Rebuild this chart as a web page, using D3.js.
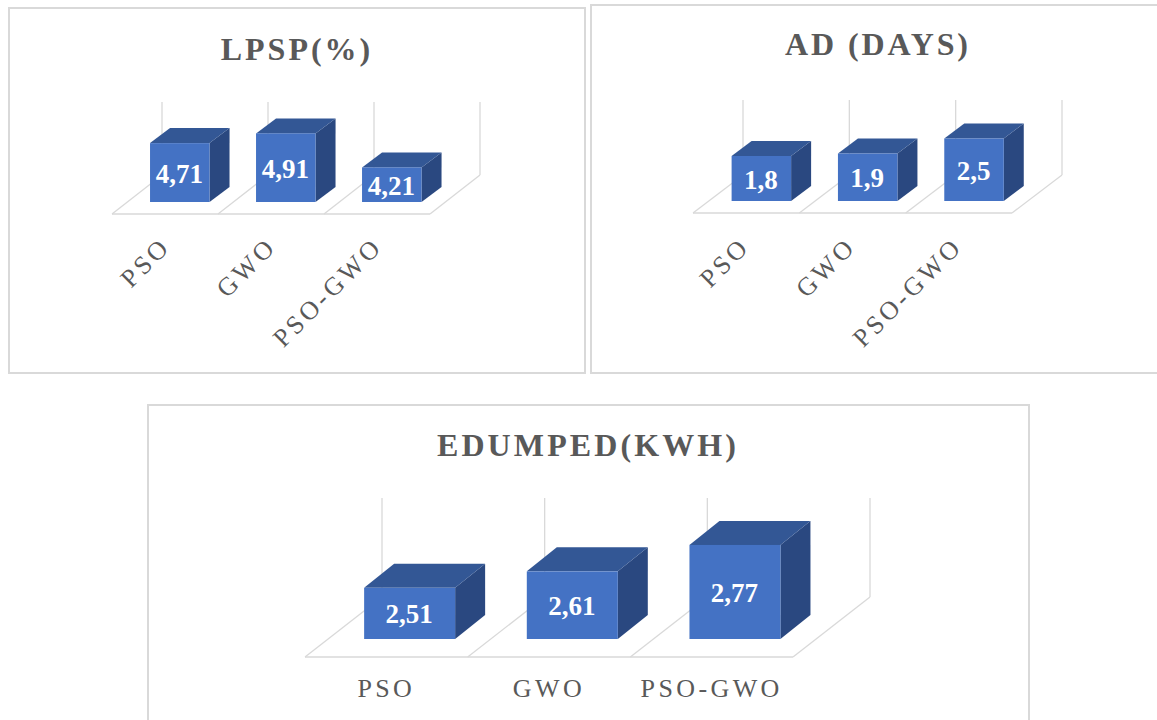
<!DOCTYPE html>
<html>
<head>
<meta charset="utf-8">
<script src="https://cdn.jsdelivr.net/npm/d3@7/dist/d3.min.js"></script>
<style>
  html, body { margin: 0; padding: 0; background: #fff; overflow: hidden; }
  text { font-family: "Liberation Serif", "Times New Roman", serif; }
</style>
</head>
<body>
<svg id="chart" width="1157" height="720"></svg>
<script>
// Algorithm names shared by all three comparisons
const categories = ["PSO", "GWO", "PSO-GWO"];

// Results per metric, in the order of the categories above
const lpspValues = [4.71, 4.91, 4.21];
const adValues = [1.8, 1.9, 2.5];
const edumpedValues = [2.51, 2.61, 2.77];

const lpspTitle = "LPSP(%)";
const adTitle = "AD (DAYS)";
const edumpedTitle = "EDUMPED(KWH)";

// Value axis ranges; the first and third charts use a truncated baseline
const lpspDomain = [3.5, 5.0];
const adDomain = [0, 3];
const edumpedDomain = [2.2, 2.8];

const FRONT = "#4472c4", TOP = "#335795", SIDE = "#2a4880";
const GRID = "#d9d9d9", INK = "#595959";

// Layout of each chart: frame, floor front edge, projected depth, bar placement
const panels = [
  { title: lpspTitle, values: lpspValues, domain: lpspDomain,
    frame: [9, 8, 585, 373], titleX: 297, titleY: 60, titleSize: 32, titleSpacing: 3,
    floorX: [112, 430], floorY: 214, depth: [50, -39], wallH: 73,
    gap: 12, barW: 59.5, barDepth: [20, -15], barNudge: -0.6, rotate: true, tickY: 248, tickX: 7 },
  { title: adTitle, values: adValues, domain: adDomain,
    frame: [591, 5, 1175, 373], titleX: 878, titleY: 55, titleSize: 32, titleSpacing: 2.9,
    floorX: [693, 1012], floorY: 213, depth: [50, -38], wallH: 75,
    gap: 12, barW: 59.5, barDepth: [20, -15], barNudge: -0.6, rotate: true, tickY: 248, tickX: 5 },
  { title: edumpedTitle, values: edumpedValues, domain: edumpedDomain,
    frame: [148, 405, 1029, 760], titleX: 588, titleY: 456, titleSize: 32, titleSpacing: 3.1,
    floorX: [305, 793], floorY: 657, depth: [77, -60], wallH: 99,
    gap: 18, barW: 91, barDepth: [30, -24], barNudge: 0.2, rotate: false, tickY: 697, tickX: 0 }
];

const svg = d3.select("#chart");
const poly = pts => pts.map(p => p.join(",")).join(" ");

panels.forEach(p => {
  const g = svg.append("g");
  const [fx0, fy0, fx1, fy1] = p.frame;
  g.append("rect").attr("x", fx0).attr("y", fy0)
    .attr("width", fx1 - fx0).attr("height", fy1 - fy0)
    .attr("fill", "#fff").attr("stroke", GRID).attr("stroke-width", 2);

  g.append("text").attr("x", p.titleX).attr("y", p.titleY)
    .attr("text-anchor", "middle").attr("font-size", p.titleSize)
    .attr("font-weight", 700).attr("letter-spacing", p.titleSpacing)
    .attr("fill", INK).text(p.title);

  const x = d3.scaleBand().domain(categories).range(p.floorX);
  const [dx, dy] = p.depth;

  // Base of the bars sits a little behind the floor's front edge
  const baseY = p.floorY - p.gap;
  const baseShift = dx * p.gap / -dy;
  const y = d3.scaleLinear().domain(p.domain).range([baseY, baseY - p.wallH]);

  // Floor outline, cell dividers and back wall gridlines
  const edges = [...categories.map(c => x(c)), p.floorX[1]];
  const grid = g.append("g").attr("fill", "none").attr("stroke", GRID);
  grid.append("line").attr("x1", p.floorX[0]).attr("x2", p.floorX[1])
    .attr("y1", p.floorY).attr("y2", p.floorY).attr("stroke-width", 1.6);
  grid.selectAll(".floor").data(edges).join("line").attr("class", "floor")
    .attr("x1", d => d).attr("y1", p.floorY)
    .attr("x2", d => d + dx).attr("y2", p.floorY + dy).attr("stroke-width", 1.3);
  grid.selectAll(".wall").data(edges).join("line").attr("class", "wall")
    .attr("x1", d => d + dx).attr("y1", p.floorY + dy)
    .attr("x2", d => d + dx).attr("y2", p.floorY + dy - p.wallH).attr("stroke-width", 1.3);

  // Extruded bars: side, top and front faces
  const [bx, by] = p.barDepth;
  const bars = g.selectAll(".bar").data(categories.map((c, i) => ({ c, v: p.values[i] })))
    .join("g").attr("class", "bar");
  const left = d => x(d.c) + x.bandwidth() / 2 + baseShift - p.barW / 2 + p.barNudge;

  bars.append("polygon").attr("fill", SIDE).attr("points", d => {
    const r = left(d) + p.barW, t = y(d.v);
    return poly([[r, baseY], [r + bx, baseY + by], [r + bx, t + by], [r, t]]);
  });
  bars.append("polygon").attr("fill", TOP).attr("points", d => {
    const l = left(d), t = y(d.v);
    return poly([[l, t], [l + bx, t + by], [l + p.barW + bx, t + by], [l + p.barW, t]]);
  });
  bars.append("rect").attr("fill", FRONT)
    .attr("x", left).attr("y", d => y(d.v))
    .attr("width", p.barW).attr("height", d => baseY - y(d.v));
  bars.append("text")
    .attr("x", d => left(d) + p.barW / 2 - 0.5)
    .attr("y", d => (y(d.v) + baseY) / 2 + 10)
    .attr("text-anchor", "middle").attr("font-size", 27).attr("font-weight", 700)
    .attr("fill", "#fff").text(d => String(d.v).replace(".", ","));

  // Category axis, slanted on the two narrower charts
  const axis = g.append("g").attr("transform", `translate(0,${p.tickY})`)
    .call(d3.axisBottom(x).tickSize(0).tickPadding(0));
  axis.select(".domain").remove();
  axis.selectAll("text")
    .attr("fill", INK).attr("font-size", 26).attr("letter-spacing", 3.4)
    .style("font-family", '"Liberation Serif", serif')
    .attr("dy", 0).attr("y", 0);
  if (p.rotate) {
    axis.selectAll("text").attr("text-anchor", "end")
      .attr("transform", `translate(${p.tickX},0) rotate(-45)`);
  } else {
    axis.selectAll("text").attr("text-anchor", "middle");
  }
});
</script>
</body>
</html>
